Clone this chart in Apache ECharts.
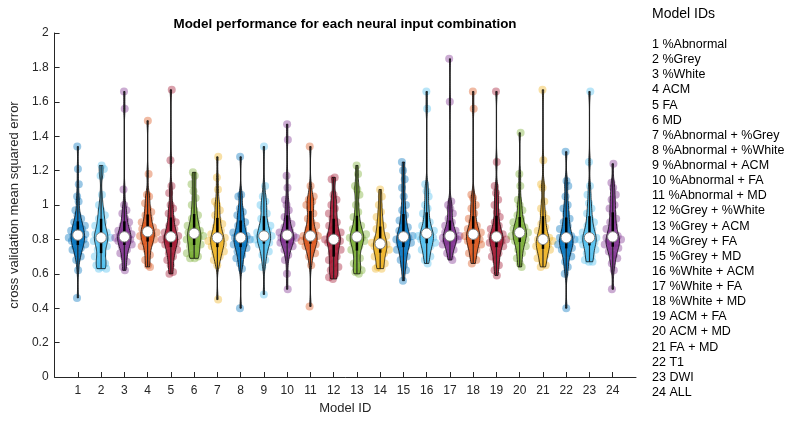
<!DOCTYPE html>
<html>
<head>
<meta charset="utf-8">
<script src="https://cdn.jsdelivr.net/npm/echarts@6/dist/echarts.min.js"></script>
<style>html,body{margin:0;padding:0;background:#fff;}#c{width:800px;height:425px;}</style>
</head>
<body>
<div id="c"></div>
<script>
const modelIds = [1,2,3,4,5,6,7,8,9,10,11,12,13,14,15,16,17,18,19,20,21,22,23,24];
const modelNames = ['1 %Abnormal','2 %Grey','3 %White','4 ACM','5 FA','6 MD','7 %Abnormal + %Grey','8 %Abnormal + %White','9 %Abnormal + ACM','10 %Abnormal + FA','11 %Abnormal + MD','12 %Grey + %White','13 %Grey + ACM','14 %Grey + FA','15 %Grey + MD','16 %White + ACM','17 %White + FA','18 %White + MD','19 ACM + FA','20 ACM + MD','21 FA + MD','22 T1','23 DWI','24 ALL'];
const yTicks = [0,0.2,0.4,0.6,0.8,1,1.2,1.4,1.6,1.8,2];

const m1 = [0.46,0.62,0.68,0.70,0.72,0.74,0.75,0.76,0.77,0.78,0.79,0.80,0.80,0.81,0.82,0.82,0.83,0.84,0.85,0.86,0.87,0.88,0.89,0.90,0.92,0.94,0.97,1.02,1.05,1.12,1.21,1.34];
const m2 = [0.63,0.63,0.64,0.65,0.66,0.68,0.70,0.72,0.74,0.76,0.78,0.79,0.80,0.81,0.81,0.82,0.83,0.84,0.86,0.88,0.90,0.92,0.94,0.97,1.00,1.06,1.17,1.21,1.23];
const m3 = [0.62,0.64,0.67,0.70,0.72,0.74,0.76,0.77,0.78,0.79,0.80,0.80,0.81,0.81,0.82,0.83,0.84,0.85,0.86,0.88,0.90,0.92,0.95,0.97,1.00,1.09,1.56,1.66];
const m4 = [0.64,0.65,0.68,0.71,0.74,0.76,0.78,0.79,0.80,0.81,0.82,0.83,0.83,0.84,0.85,0.86,0.87,0.88,0.90,0.92,0.94,0.96,0.98,1.01,1.05,1.06,1.18,1.49];
const m5 = [0.60,0.61,0.65,0.68,0.70,0.72,0.74,0.76,0.77,0.78,0.79,0.80,0.80,0.81,0.82,0.83,0.84,0.86,0.88,0.90,0.92,0.95,0.98,1.00,1.07,1.11,1.26,1.67];
const m6 = [0.69,0.69,0.70,0.71,0.72,0.74,0.76,0.77,0.78,0.80,0.81,0.82,0.82,0.83,0.84,0.85,0.87,0.88,0.90,0.92,0.94,0.97,1.00,1.04,1.08,1.12,1.17,1.19];
const m7 = [0.45,0.65,0.68,0.70,0.72,0.73,0.75,0.76,0.77,0.78,0.79,0.80,0.80,0.81,0.82,0.83,0.85,0.87,0.89,0.91,0.94,0.97,1.00,1.02,1.09,1.16,1.28];
const m8 = [0.40,0.63,0.66,0.69,0.71,0.73,0.75,0.76,0.77,0.78,0.79,0.80,0.81,0.81,0.82,0.83,0.84,0.86,0.88,0.90,0.92,0.94,0.96,0.98,1.05,1.06,1.28];
const m9 = [0.48,0.64,0.68,0.71,0.73,0.75,0.77,0.78,0.79,0.80,0.81,0.82,0.82,0.82,0.84,0.85,0.87,0.88,0.90,0.92,0.95,0.98,1.00,1.02,1.05,1.11,1.34];
const m10 = [0.51,0.60,0.68,0.71,0.74,0.76,0.77,0.78,0.79,0.80,0.81,0.81,0.81,0.82,0.83,0.84,0.85,0.87,0.89,0.91,0.93,0.97,1.00,1.03,1.10,1.17,1.38,1.47];
const m11 = [0.41,0.65,0.70,0.72,0.74,0.76,0.77,0.78,0.79,0.80,0.81,0.82,0.82,0.82,0.84,0.86,0.88,0.90,0.92,0.95,0.98,1.00,1.02,1.03,1.05,1.11,1.34];
const m12 = [0.57,0.58,0.60,0.62,0.64,0.66,0.68,0.70,0.72,0.74,0.76,0.78,0.79,0.80,0.80,0.81,0.82,0.84,0.86,0.88,0.90,0.92,0.95,0.98,1.00,1.03,1.06,1.15,1.16];
const m13 = [0.60,0.61,0.62,0.64,0.66,0.69,0.72,0.74,0.76,0.78,0.79,0.80,0.81,0.81,0.82,0.83,0.84,0.86,0.88,0.90,0.93,0.96,1.00,1.06,1.09,1.11,1.18,1.23];
const m14 = [0.63,0.63,0.64,0.66,0.68,0.70,0.72,0.73,0.74,0.75,0.76,0.77,0.77,0.78,0.79,0.80,0.82,0.84,0.86,0.88,0.90,0.93,0.96,1.00,1.05,1.09];
const m15 = [0.56,0.62,0.65,0.68,0.70,0.72,0.74,0.76,0.77,0.78,0.79,0.80,0.81,0.81,0.82,0.83,0.85,0.87,0.89,0.91,0.94,0.97,1.00,1.05,1.10,1.15,1.20,1.25];
const m16 = [0.66,0.68,0.70,0.72,0.74,0.76,0.77,0.78,0.79,0.80,0.81,0.82,0.82,0.83,0.84,0.85,0.86,0.88,0.90,0.92,0.95,0.98,1.00,1.05,1.08,1.12,1.56,1.66];
const m17 = [0.68,0.70,0.72,0.74,0.76,0.77,0.78,0.79,0.80,0.80,0.81,0.81,0.82,0.82,0.83,0.84,0.85,0.86,0.88,0.90,0.92,0.95,0.98,1.00,1.02,1.60,1.85];
const m18 = [0.66,0.68,0.70,0.72,0.74,0.76,0.77,0.78,0.79,0.80,0.81,0.82,0.82,0.83,0.84,0.85,0.86,0.88,0.90,0.92,0.95,0.98,1.00,1.04,1.06,1.56,1.66];
const m19 = [0.59,0.62,0.65,0.68,0.70,0.72,0.74,0.76,0.77,0.78,0.79,0.80,0.80,0.81,0.82,0.83,0.84,0.86,0.88,0.90,0.93,0.96,1.00,1.03,1.07,1.11,1.25,1.66];
const m20 = [0.64,0.66,0.69,0.72,0.74,0.76,0.78,0.79,0.80,0.81,0.82,0.83,0.84,0.84,0.85,0.86,0.87,0.88,0.90,0.92,0.94,0.97,1.00,1.03,1.11,1.18,1.42];
const m21 = [0.64,0.65,0.67,0.69,0.71,0.73,0.74,0.75,0.76,0.77,0.78,0.79,0.80,0.80,0.81,0.83,0.85,0.87,0.89,0.92,0.95,0.98,1.02,1.10,1.12,1.26,1.67];
const m22 = [0.40,0.60,0.64,0.67,0.70,0.72,0.74,0.75,0.76,0.77,0.78,0.79,0.80,0.81,0.81,0.82,0.84,0.86,0.88,0.90,0.92,0.95,0.98,1.00,1.05,1.11,1.14,1.31];
const m23 = [0.67,0.67,0.68,0.70,0.72,0.74,0.76,0.77,0.78,0.79,0.80,0.81,0.81,0.81,0.83,0.84,0.86,0.88,0.90,0.92,0.95,0.98,1.01,1.06,1.11,1.25,1.66];
const m24 = [0.51,0.62,0.66,0.69,0.71,0.73,0.75,0.76,0.77,0.78,0.79,0.80,0.80,0.81,0.82,0.84,0.86,0.88,0.90,0.92,0.95,0.98,1.00,1.03,1.06,1.10,1.13,1.24];

const models = [m1,m2,m3,m4,m5,m6,m7,m8,m9,m10,m11,m12,m13,m14,m15,m16,m17,m18,m19,m20,m21,m22,m23,m24];
const palette = ['#0072BD','#4DBEEE','#7E2F8E','#D95319','#A2142F','#77AC30','#EDB120'];

const BW = 0.04, HALF = 0.29, JIT = 0.42;
function kde(vals, y){let s=0;for(const v of vals){const u=(y-v)/BW;s+=Math.exp(-0.5*u*u);}return s;}
function quant(sorted,p){const pos=(sorted.length-1)*p;const lo=Math.floor(pos),hi=Math.ceil(pos);return sorted[lo]+(sorted[hi]-sorted[lo])*(pos-lo);}

const stats = models.map(vals=>{
  const s=[...vals].sort((a,b)=>a-b);
  const mn=s[0], mx=s[s.length-1];
  const ys=[];const N=90;
  for(let k=0;k<=N;k++) ys.push(mn+(mx-mn)*k/N);
  const ds=ys.map(y=>kde(vals,y));
  const dmax=Math.max(...ds);
  return {mn,mx,ys,ws:ds.map(d=>d/dmax),dmax,q1:quant(s,0.25),q3:quant(s,0.75),med:quant(s,0.5)};
});

// jittered scatter points
const pts=[];
models.forEach((vals,i)=>{
  const st=stats[i];
  vals.forEach((v,j)=>{
    const w=kde(vals,v)/st.dmax;
    const r=((j*0.6180339887+0.31*i)%1)*2-1;
    pts.push({value:[modelIds[i]+r*w*JIT,v],itemStyle:{color:palette[i%7]}});
  });
});

const chart=echarts.init(document.getElementById('c'),null,{renderer:'canvas'});
const FONT='"Liberation Sans", Arial, Helvetica, sans-serif';
chart.setOption({
  animation:false,
  title:{text:'Model performance for each neural input combination',left:340,top:13,textAlign:'center',
    textStyle:{fontFamily:FONT,fontSize:13.4,fontWeight:'bold',color:'#000'}},
  grid:{left:45,right:164,top:33,bottom:48},
  xAxis:{type:'value',min:0,max:25,interval:1,name:'Model ID',nameLocation:'middle',nameGap:22,
    nameTextStyle:{fontFamily:FONT,fontSize:13,color:'#262626'},
    axisLine:{lineStyle:{color:'#262626',width:1}},
    axisTick:{inside:true,length:5,customValues:modelIds,lineStyle:{color:'#262626'}},
    axisLabel:{customValues:modelIds,fontFamily:FONT,fontSize:12,color:'#262626',margin:8},
    splitLine:{show:false}},
  yAxis:{type:'value',min:0,max:2,interval:0.2,name:'cross validation mean squared error',nameLocation:'middle',nameGap:31,
    nameTextStyle:{fontFamily:FONT,fontSize:13,color:'#262626'},
    axisLine:{show:true,lineStyle:{color:'#262626',width:1}},
    axisTick:{show:true,inside:true,length:5,lineStyle:{color:'#262626'}},
    axisLabel:{fontFamily:FONT,fontSize:12,color:'#262626',margin:6,formatter:v=>String(+v.toFixed(1))},
    splitLine:{show:false}},
  graphic:[
    {type:'text',left:652,top:7,style:{text:'Model IDs',font:'14px '+FONT,fill:'#000'}},
    {type:'text',left:652,top:37,style:{text:modelNames.join('\n'),font:'12.5px '+FONT,fill:'#000',lineHeight:15.13}}
  ],
  series:[
    {type:'scatter',data:pts,symbolSize:8,itemStyle:{opacity:0.4},z:2,silent:true},
    {type:'custom',z:3,silent:true,data:modelIds.map(x=>[x]),
      renderItem:function(params,api){
        const i=params.dataIndex, st=stats[i], x=api.value(0), col=palette[i%7];
        const right=[],left=[];
        for(let k=0;k<st.ys.length;k++){
          right.push(api.coord([x+st.ws[k]*HALF,st.ys[k]]));
          left.unshift(api.coord([x-st.ws[k]*HALF,st.ys[k]]));
        }
        const poly=right.concat(left);
        const top=api.coord([x,st.mx]), bot=api.coord([x,st.mn]);
        const b1=api.coord([x,st.q1]), b3=api.coord([x,st.q3]), md=api.coord([x,st.med]);
        return {type:'group',children:[
          {type:'polygon',shape:{points:poly},style:{fill:col,opacity:1,fillOpacity:0.85,stroke:'#000',lineWidth:0.8,strokeOpacity:0.9}},
          {type:'line',shape:{x1:top[0],y1:top[1],x2:bot[0],y2:bot[1]},style:{stroke:'#222',lineWidth:1.2}},
          {type:'line',shape:{x1:b1[0],y1:b1[1],x2:b3[0],y2:b3[1]},style:{stroke:'#000',lineWidth:2.5}},
          {type:'circle',shape:{cx:md[0],cy:md[1],r:5.2},style:{fill:'#fff',stroke:'#808080',lineWidth:1}}
        ]};
      }}
  ]
});
</script>
</body>
</html>
